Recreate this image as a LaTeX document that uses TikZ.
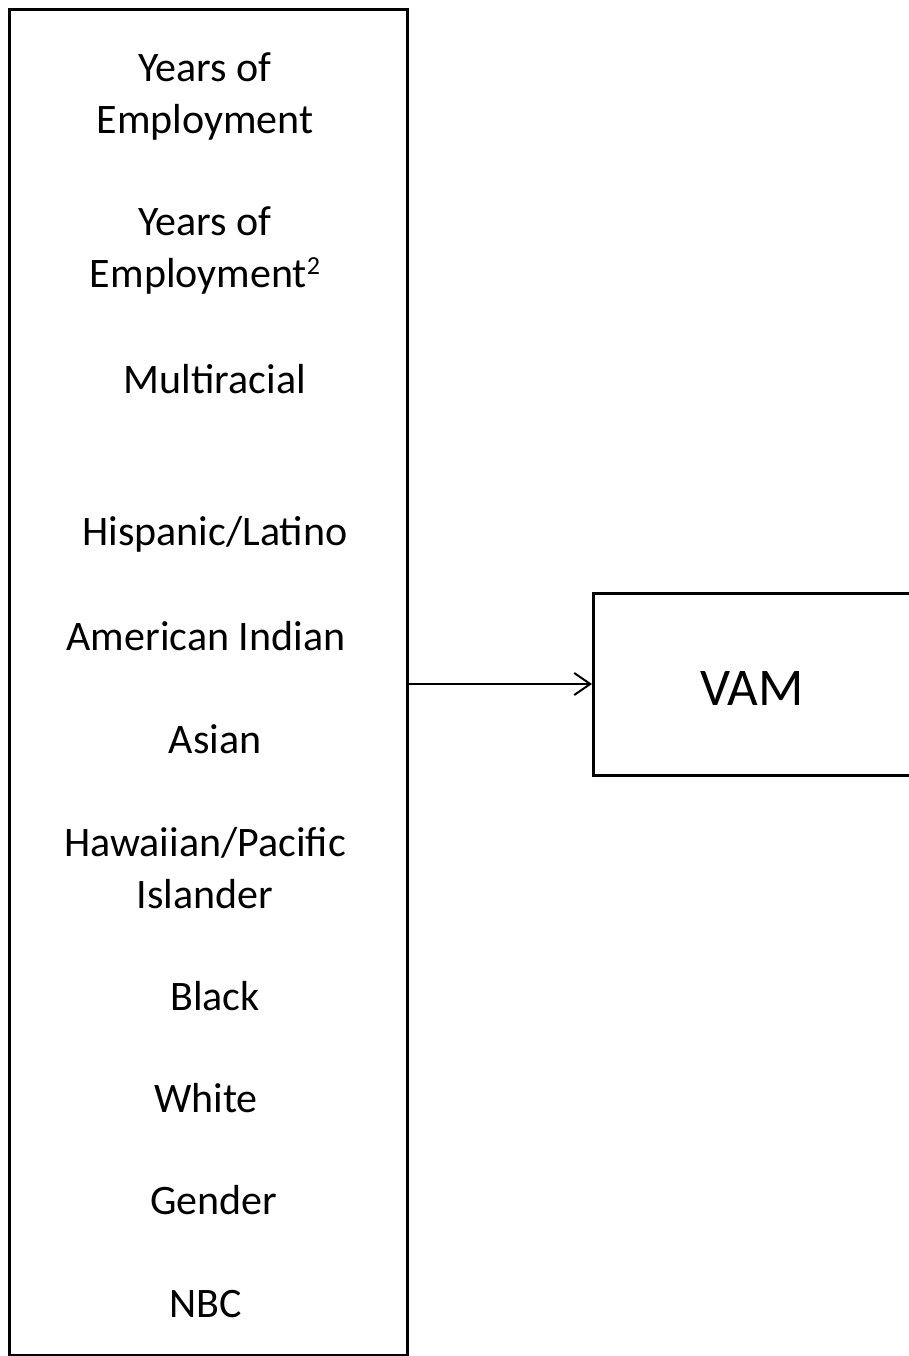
\documentclass[tikz,border=0pt]{standalone}
\usepackage{fontspec}
\setmainfont{Carlito}
\usepackage{tikz}
\usetikzlibrary{arrows.meta,positioning}

\begin{document}
\begin{tikzpicture}[x=1pt, y=-1pt,
    varbox/.style={draw, line width=3pt, minimum width=398pt, minimum height=1345pt},
    outbox/.style={draw, line width=3pt, minimum width=340pt, minimum height=182pt},
    var/.style={font=\fontsize{42}{52}\selectfont, align=center}]
    \useasboundingbox (0,0) rectangle (909,1356);
    \node[varbox] (vars) at (208,682.5) {};
    \node[outbox, anchor=west] (vamb) at (592,684) {};
    \node[font=\fontsize{53}{60}\selectfont] (vam) at (752,688) {VAM};
    
    \node[var] (yoe) at (205,96) {Years of\\Employment};
    \node[var] (yoesq) at (205,250) {Years of\\Employment\raisebox{13pt}{\fontsize{26}{26}\selectfont 2}};
    \node[var] (multi) at (215,379) {Multiracial};
    \node[var] (hisp) at (215,534) {Hispanic/Latino};
    \node[var] (amind) at (206,636) {American Indian};
    \node[var] (asian) at (215,739) {Asian};
    \node[var] (hawaii) at (205,868) {Hawaiian/Pacific\\Islander};
    \node[var] (black) at (215,996) {Black};
    \node[var] (white) at (206,1098) {White};
    \node[var] (gender) at (214,1200) {Gender};
    \node[var] (nbc) at (206,1304) {NBC};
    
    \draw[line width=2pt, -{Straight Barb[length=16pt, width=22pt]}] (vamb.west -| vars.east) -- (vamb.west);
\end{tikzpicture}
\end{document}
